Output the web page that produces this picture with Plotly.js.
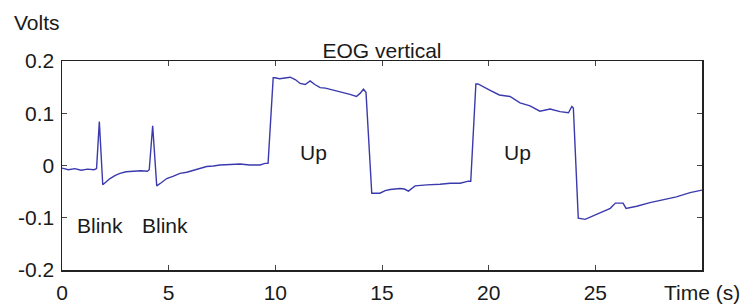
<!DOCTYPE html>
<html>
<head>
<meta charset="utf-8">
<script src="https://cdn.plot.ly/plotly-3.0.1.min.js"></script>
<style>html,body{margin:0;padding:0;background:#fff;}#chart{width:748px;height:308px;}</style>
</head>
<body>
<div id="chart"></div>
<script>
const timeS = [0, 0.3, 0.6, 0.9, 1.2, 1.5, 1.62, 1.75, 1.91, 2.05, 2.25, 2.5, 2.72, 3.0, 3.33, 3.7, 4.0, 4.09, 4.25, 4.44, 4.65, 4.91, 5.2, 5.53, 5.85, 6.16, 6.45, 6.78, 7.1, 7.4, 7.9, 8.34, 8.8, 9.28, 9.52, 9.66, 9.9, 9.98, 10.2, 10.45, 10.7, 10.95, 11.16, 11.4, 11.63, 11.85, 12.1, 12.35, 12.56, 12.8, 13.03, 13.25, 13.5, 13.8, 13.97, 14.13, 14.25, 14.52, 14.9, 15.15, 15.38, 15.85, 16.05, 16.24, 16.55, 17.1, 17.4, 17.72, 18.2, 18.66, 19.05, 19.16, 19.4, 19.5, 20.07, 20.5, 21.0, 21.47, 21.94, 22.4, 22.88, 23.35, 23.74, 23.9, 23.97, 24.2, 24.52, 24.75, 25.07, 25.38, 25.7, 25.94, 26.3, 26.44, 26.94, 27.56, 28.2, 28.8, 29.44, 30];
const volts = [-0.005, -0.008, -0.006, -0.009, -0.007, -0.008, -0.006, 0.084, -0.037, -0.032, -0.025, -0.019, -0.015, -0.012, -0.011, -0.010, -0.011, -0.008, 0.076, -0.039, -0.033, -0.025, -0.021, -0.015, -0.013, -0.009, -0.006, -0.002, -0.001, 0.001, 0.002, 0.003, 0.001, 0.001, 0.004, 0.004, 0.168, 0.168, 0.166, 0.167, 0.169, 0.164, 0.157, 0.155, 0.162, 0.155, 0.149, 0.148, 0.146, 0.144, 0.141, 0.139, 0.136, 0.132, 0.138, 0.146, 0.14, -0.053, -0.053, -0.048, -0.046, -0.044, -0.045, -0.049, -0.039, -0.037, -0.037, -0.036, -0.034, -0.034, -0.030, -0.030, 0.156, 0.156, 0.144, 0.135, 0.132, 0.12, 0.114, 0.104, 0.108, 0.103, 0.101, 0.113, 0.11, -0.101, -0.103, -0.099, -0.092, -0.088, -0.082, -0.072, -0.072, -0.082, -0.078, -0.071, -0.066, -0.06, -0.052, -0.047];
const xTickVals = [0, 5, 10, 15, 20, 25];
const xTickText = ["0", "5", "10", "15", "20", "25"];
const yTickVals = [0.2, 0.1, 0, -0.1, -0.2];
const yTickText = ["0.2", "0.1", "0", "-0.1", "-0.2"];
const labels = [
  {text: "Blink", x: 1.78, y: -0.114},
  {text: "Blink", x: 4.83, y: -0.114},
  {text: "Up", x: 11.77, y: 0.024},
  {text: "Up", x: 21.33, y: 0.024}
];

const font = {family: "Liberation Sans, Arial, sans-serif", size: 21, color: "#1a1a1a"};

const trace = {
  x: timeS, y: volts, type: "scatter", mode: "lines",
  line: {color: "#3a3aae", width: 1.4},
  hoverinfo: "skip"
};

const annotations = labels.map(l => ({
  text: l.text, x: l.x, y: l.y, xref: "x", yref: "y",
  showarrow: false, font: font
}));
annotations.push({text: "Volts", xref: "paper", yref: "paper", x: 0, y: 1, xanchor: "left", yanchor: "middle", xshift: -50, yshift: 39, showarrow: false, font: font});
annotations.push({text: "Time (s)", xref: "paper", yref: "paper", x: 1, y: 0, xanchor: "center", yanchor: "middle", xshift: 0, yshift: -22, showarrow: false, font: font});

const layout = {
  width: 748, height: 308,
  margin: {l: 62, r: 46, t: 61, b: 38, pad: 0},
  paper_bgcolor: "#ffffff", plot_bgcolor: "#ffffff",
  showlegend: false,
  font: font,
  title: {text: "EOG vertical", font: font, x: 0.5, xref: "paper", xanchor: "center", y: 1, yref: "paper", yanchor: "bottom", pad: {b: 3}},
  xaxis: {
    range: [0, 30], showgrid: false, zeroline: false,
    showline: true, linecolor: "#222", linewidth: 1.5, mirror: "ticks",
    ticks: "inside", ticklen: 5, tickwidth: 1, tickcolor: "#444",
    tickvals: xTickVals, ticktext: xTickText, tickfont: font,
    ticklabelstandoff: 3
  },
  yaxis: {
    range: [-0.2, 0.2], showgrid: false, zeroline: false,
    showline: true, linecolor: "#222", linewidth: 1.5, mirror: "ticks",
    ticks: "inside", ticklen: 5, tickwidth: 1, tickcolor: "#444",
    tickvals: yTickVals, ticktext: yTickText, tickfont: font,
    ticklabelstandoff: 2
  },
  annotations: annotations
};

Plotly.newPlot("chart", [trace], layout, {displayModeBar: false, staticPlot: true});
</script>
</body>
</html>
